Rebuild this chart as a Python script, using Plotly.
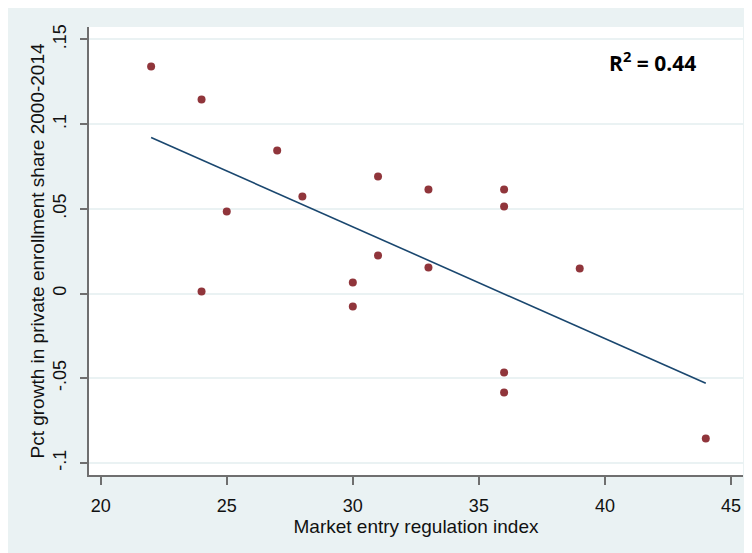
import numpy as np
import plotly.graph_objects as go

# Data
entry_index = [22, 24, 25, 24, 27, 28, 30, 30, 31, 31, 33, 33, 36, 36, 36, 36, 39, 44]
pct_growth = [0.134, 0.1145, 0.0484, 0.0012, 0.0844, 0.0573, 0.0065, -0.0077, 0.069,
              0.0224, 0.0614, 0.0153, 0.0614, 0.0514, -0.0466, -0.0584, 0.0148, -0.0856]
x_ticks = [20, 25, 30, 35, 40, 45]
y_ticks = [-0.1, -0.05, 0, 0.05, 0.1, 0.15]
y_tick_labels = ["-.1", "-.05", "0", ".05", ".1", ".15"]
r2_label = "R<sup>2</sup> = 0.44"

# Linear fit (as in Stata's lfit)
slope, intercept = np.polyfit(entry_index, pct_growth, 1)
fit_x = [min(entry_index), max(entry_index)]
fit_y = [intercept + slope * v for v in fit_x]

BG = "#eaf2f3"
AXIS = "#6f6f6f"
FONT = "Liberation Sans, Arial, sans-serif"

fig = go.Figure()
fig.add_trace(go.Scatter(x=entry_index, y=pct_growth, mode="markers",
                         marker=dict(color="#90353b", size=8, line=dict(width=0)),
                         showlegend=False))
fig.add_trace(go.Scatter(x=fit_x, y=fit_y, mode="lines",
                         line=dict(color="#1a476f", width=1.6), showlegend=False))

fig.update_layout(
    template="none",
    width=744, height=545,
    margin=dict(l=81, r=9, t=19, b=78, autoexpand=False),
    paper_bgcolor=BG, plot_bgcolor="white",
    font=dict(family=FONT, size=16, color="#111111"),
    annotations=[dict(text=r2_label, xref="paper", yref="paper", x=0.861, y=0.922,
                      showarrow=False, xanchor="center", yanchor="middle",
                      font=dict(family="Open Sans, sans-serif", size=21, color="black",
                                weight="bold"))],
)
fig.update_xaxes(range=[19.536, 45.476], tickvals=x_ticks, ticks="outside", ticklen=8,
                 tickcolor=AXIS, tickwidth=1.5, showline=True, linecolor=AXIS, linewidth=1.5,
                 showgrid=False, zeroline=False, ticklabelstandoff=6, automargin=False,
                 tickfont=dict(size=18),
                 title=dict(text="Market entry regulation index", standoff=3))
fig.update_yaxes(range=[-0.1071, 0.1573], tickvals=y_ticks, ticktext=y_tick_labels,
                 tickangle=-90, ticks="outside", ticklen=7, tickcolor=AXIS, tickwidth=1.5,
                 showline=True, linecolor=AXIS, linewidth=1.5, showgrid=True,
                 gridcolor=BG, gridwidth=1.5, zeroline=False, ticklabelstandoff=7,
                 automargin=False, tickfont=dict(size=18),
                 title=dict(text="Pct growth in private enrollment share 2000-2014", standoff=0))

fig.write_html("out.html")
